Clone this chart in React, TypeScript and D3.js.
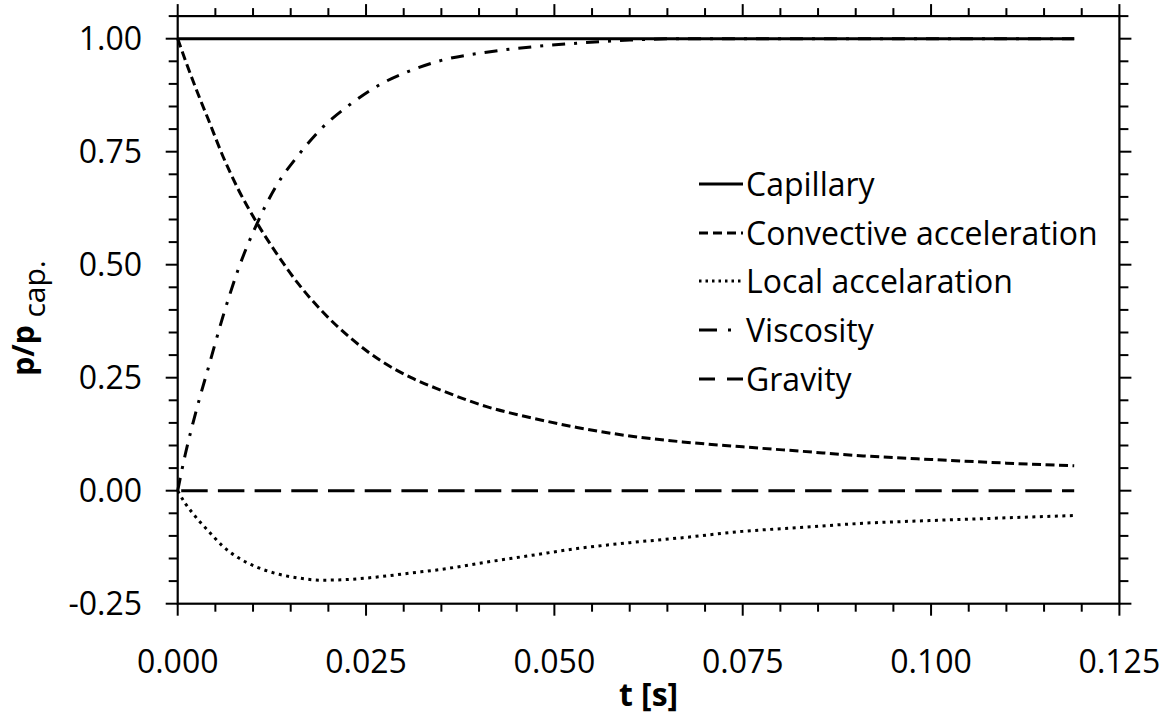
import React from 'react';
import * as d3 from 'd3';

// ---- data ----
const T = [0, 0.001, 0.002, 0.003, 0.004, 0.006, 0.008, 0.0105, 0.013, 0.016, 0.019, 0.023, 0.027, 0.031, 0.035, 0.041, 0.047, 0.053, 0.06, 0.067, 0.075, 0.083, 0.091, 0.1, 0.11, 0.119];
const CAPILLARY = [1, 1, 1, 1, 1, 1, 1, 1, 1, 1, 1, 1, 1, 1, 1, 1, 1, 1, 1, 1, 1, 1, 1, 1, 1, 1];
const CONVECTIVE = [1.0, 0.953, 0.908, 0.865, 0.824, 0.74, 0.668, 0.593, 0.528, 0.458, 0.4, 0.337, 0.287, 0.25, 0.222, 0.186, 0.161, 0.14, 0.121, 0.108, 0.097, 0.087, 0.077, 0.069, 0.061, 0.055];
const LOCAL = [0, -0.028, -0.05, -0.07, -0.088, -0.123, -0.148, -0.169, -0.183, -0.193, -0.198, -0.196, -0.19, -0.182, -0.174, -0.158, -0.143, -0.128, -0.115, -0.104, -0.09, -0.081, -0.072, -0.066, -0.06, -0.055];
const VISCOSITY = [0, 0.08, 0.148, 0.21, 0.268, 0.385, 0.488, 0.59, 0.672, 0.742, 0.8, 0.856, 0.9, 0.93, 0.952, 0.97, 0.982, 0.99, 0.997, 1.0, 1.0, 1.0, 1.0, 1.0, 1.0, 1.0];
const GRAVITY = [0, 0, 0, 0, 0, 0, 0, 0, 0, 0, 0, 0, 0, 0, 0, 0, 0, 0, 0, 0, 0, 0, 0, 0, 0, 0];

const SERIES_NAMES = ['Capillary', 'Convective acceleration', 'Local accelaration', 'Viscosity', 'Gravity'];
const X_TICKS = [0, 0.025, 0.05, 0.075, 0.1, 0.125];
const X_TICK_LABELS = ['0.000', '0.025', '0.050', '0.075', '0.100', '0.125'];
const Y_TICKS = [-0.25, 0, 0.25, 0.5, 0.75, 1.0];
const Y_TICK_LABELS = ['-0.25', '0.00', '0.25', '0.50', '0.75', '1.00'];
const X_MINOR_STEP = 0.005;
const Y_MINOR_STEP = 0.05;

const FONT = "'Open Sans', 'Noto Sans', sans-serif";

export default function App() {
  const left = 177.7, right = 1119.4, top = 16.1, bottom = 603.7;
  const x = d3.scaleLinear().domain([0, 0.125]).range([left, right]);
  const y = d3.scaleLinear().domain([-0.25, 1.05]).range([bottom, top]);

  const xMinor = d3.range(0, 26).map((i) => +(i * X_MINOR_STEP).toFixed(4));
  const yMinor = d3.range(0, 27).map((i) => +(-0.25 + i * Y_MINOR_STEP).toFixed(4));
  const isMajorX = (v: number) => X_TICKS.some((m) => Math.abs(m - v) < 1e-6);
  const isMajorY = (v: number) => Y_TICKS.some((m) => Math.abs(m - v) < 1e-6);

  const makeLine = (vals: number[]) =>
    d3
      .line<number>()
      .x((_, i) => x(T[i]))
      .y((v) => y(v))
      .curve(d3.curveMonotoneX)(vals) || '';

  const styles = [
    { dash: 'none', w: 3 },
    { dash: '9 4.5', w: 3 },
    { dash: '3 4.5', w: 3 },
    { dash: '13 9 3 9', w: 3 },
    { dash: '26.5 10.2', w: 3 },
  ];
  const data = [CAPILLARY, CONVECTIVE, LOCAL, VISCOSITY, GRAVITY];

  const legendDash = ['none', '9 5', '2.5 4', '18 11 3 200', '16 12'];
  const legendBase = [196, 245, 293, 342, 391];

  return (
    <div style={{ position: 'absolute', left: 0, top: 0 }}>
      <svg width={1171} height={715} style={{ display: 'block', background: '#fff' }} fontFamily={FONT}>
        {/* series */}
        {data.map((vals, i) => (
          <path
            key={i}
            d={makeLine(vals)}
            fill="none"
            stroke="#000"
            strokeWidth={styles[i].w}
            strokeDasharray={styles[i].dash}
            strokeDashoffset={i === 4 ? -3.5 : 0}
          />
        ))}

        {/* frame */}
        <rect x={left} y={top} width={right - left} height={bottom - top} fill="none" stroke="#000" strokeWidth={2.2} />

        {/* x ticks */}
        {xMinor.map((v) => {
          const len = isMajorX(v) ? 12 : 8;
          return (
            <g key={'xt' + v}>
              <line x1={x(v)} x2={x(v)} y1={bottom} y2={bottom + len} stroke="#000" strokeWidth={2} />
              <line x1={x(v)} x2={x(v)} y1={top} y2={top - len} stroke="#000" strokeWidth={2} />
            </g>
          );
        })}
        {/* y ticks */}
        {yMinor.map((v) => {
          const len = isMajorY(v) ? 12 : 9;
          return (
            <g key={'yt' + v}>
              <line x1={left} x2={left - len} y1={y(v)} y2={y(v)} stroke="#000" strokeWidth={2} />
              <line x1={right} x2={right + len} y1={y(v)} y2={y(v)} stroke="#000" strokeWidth={2} />
            </g>
          );
        })}

        {/* tick labels */}
        {X_TICKS.map((v, i) => (
          <text key={'xl' + i} x={x(v)} y={673} textAnchor="middle" fontSize={32} fill="#000">
            {X_TICK_LABELS[i]}
          </text>
        ))}
        {Y_TICKS.map((v, i) => (
          <text key={'yl' + i} x={142} y={y(v)} dy="0.36em" textAnchor="end" fontSize={32} fill="#000">
            {Y_TICK_LABELS[i]}
          </text>
        ))}

        {/* axis titles */}
        <text x={(left + right) / 2} y={706} textAnchor="middle" fontSize={32} fontWeight="bold" fill="#000">
          t [s]
        </text>
        <text transform={`translate(34, 318) rotate(-90)`} textAnchor="middle" fontSize={30} fill="#000">
          <tspan fontWeight="bold">p/p</tspan>
          <tspan dy={11} fontWeight="normal">{' cap.'}</tspan>
        </text>

        {/* legend */}
        {SERIES_NAMES.map((name, i) => (
          <g key={'lg' + i}>
            <line
              x1={699}
              x2={743}
              y1={legendBase[i] - 12}
              y2={legendBase[i] - 12}
              stroke="#000"
              strokeWidth={3}
              strokeDasharray={legendDash[i]}
            />
            <text x={746} y={legendBase[i]} fontSize={32} fill="#000">
              {name}
            </text>
          </g>
        ))}
      </svg>
    </div>
  );
}
